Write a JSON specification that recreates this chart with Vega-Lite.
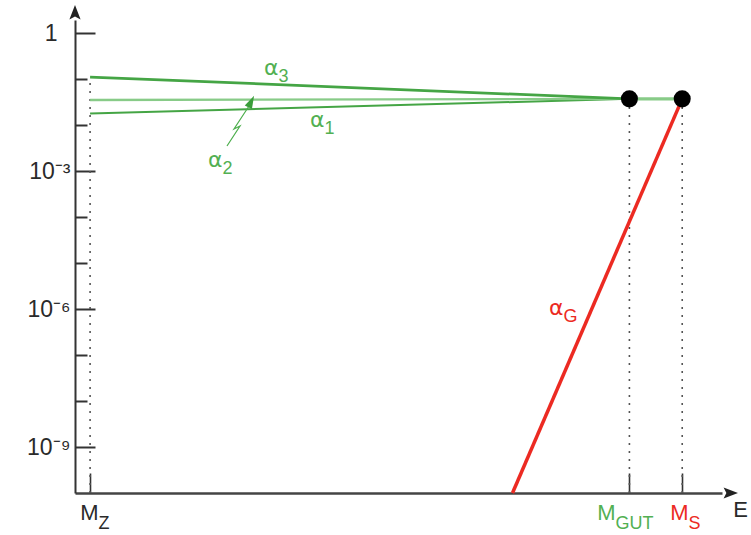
{
  "$schema": "https://vega.github.io/schema/vega-lite/v6.json",
  "width": 647,
  "height": 473,
  "autosize": "none",
  "padding": {"left": 75, "top": 20, "right": 29, "bottom": 42},
  "background": "white",
  "config": {"view": {"stroke": null}},
  "datasets": {
    "markers": [
      {"x": 2, "y": 1e-10, "top": 0.1105},
      {"x": 16.3, "y": 1e-10, "top": 0.037},
      {"x": 17.7, "y": 1e-10, "top": 0.037}
    ],
    "lines": [
      {"series": "α1", "x": 2, "y": 0.0178},
      {"series": "α1", "x": 16.3, "y": 0.037},
      {"series": "α2", "x": 2, "y": 0.035},
      {"series": "α2", "x": 16.3, "y": 0.037},
      {"series": "α3", "x": 2, "y": 0.1105},
      {"series": "α3", "x": 16.3, "y": 0.037},
      {"series": "unified", "x": 16.3, "y": 0.037},
      {"series": "unified", "x": 17.7, "y": 0.037},
      {"series": "αG", "x": 13.2, "y": 1e-10},
      {"series": "αG", "x": 17.7, "y": 0.037}
    ],
    "pointer": [
      {"i": 1, "x": 5.63, "y": 0.003495},
      {"i": 2, "x": 5.975, "y": 0.00951},
      {"i": 3, "x": 5.816, "y": 0.00819},
      {"i": 4, "x": 6.214, "y": 0.0259}
    ],
    "arrows": [
      {"dir": "up", "x": 1.6, "y": 2.72},
      {"dir": "right", "x": 18.967, "y": 1e-10},
      {"dir": "pointer", "x": 6.253, "y": 0.0301}
    ],
    "dots": [
      {"x": 16.3, "y": 0.037},
      {"x": 17.7, "y": 0.037}
    ],
    "axislabels": [
      {"main": "M", "sub": "Z", "x": 2.223, "y": 2.59e-11, "sector": "none"},
      {"main": "M", "sub": "GUT", "x": 15.932, "y": 2.59e-11, "sector": "gauge"},
      {"main": "M", "sub": "S", "x": 17.867, "y": 2.59e-11, "sector": "gravity"},
      {"main": "E", "sub": "", "x": 19.445, "y": 3.0e-11, "sector": "none"}
    ],
    "alphalabels": [
      {"main": "α", "sub": "3", "x": 6.996, "y": 0.122, "sector": "gauge"},
      {"main": "α", "sub": "1", "x": 8.216, "y": 0.00905, "sector": "gauge"},
      {"main": "α", "sub": "2", "x": 5.511, "y": 0.00122, "sector": "gauge"},
      {"main": "α", "sub": "G", "x": 14.553, "y": 7.41e-7, "sector": "gravity"}
    ]
  },
  "encoding": {
    "x": {
      "field": "x",
      "type": "quantitative",
      "scale": {"domain": [1.6, 18.755], "nice": false, "zero": false},
      "axis": {
        "title": null,
        "values": [2, 16.3, 17.7],
        "labels": false,
        "grid": false,
        "tickSize": -20,
        "tickWidth": 1.6,
        "tickColor": "#333",
        "domainColor": "#444",
        "domainWidth": 2.5
      }
    },
    "y": {
      "field": "y",
      "type": "quantitative",
      "scale": {"type": "log", "domain": [1e-10, 1.918], "nice": false},
      "axis": {
        "title": null,
        "grid": false,
        "values": [1e-9, 1e-8, 1e-7, 1e-6, 1e-5, 1e-4, 1e-3, 1e-2, 1e-1, 1],
        "tickSize": {"condition": {"test": "abs(round(log(datum.value)/LN10)) % 3 == 0", "value": -20}, "value": -12},
        "tickWidth": 2,
        "tickColor": "#333",
        "domainColor": "#333",
        "domainWidth": 2,
        "labelFont": "Liberation Sans",
        "labelFontSize": 23,
        "labelColor": "#2a2a2a",
        "labelPadding": {"condition": {"test": "datum.value > 0.5", "value": 38}, "value": 25},
        "labelExpr": "datum.value > 0.5 ? '1' : abs(round(log(datum.value)/LN10)) == 3 ? '10⁻³' : abs(round(log(datum.value)/LN10)) == 6 ? '10⁻⁶' : abs(round(log(datum.value)/LN10)) == 9 ? '10⁻⁹' : ''"
      }
    }
  },
  "resolve": {"scale": {"color": "independent", "strokeWidth": "independent", "shape": "independent", "size": "independent"}},
  "layer": [
    {
      "data": {"name": "markers"},
      "mark": {"type": "rule", "strokeDash": [2, 6], "strokeWidth": 1.6, "color": "#555"},
      "encoding": {"y2": {"field": "top"}}
    },
    {
      "data": {"name": "lines"},
      "mark": {"type": "line", "strokeCap": "butt"},
      "encoding": {
        "detail": {"field": "series"},
        "color": {
          "field": "series",
          "type": "nominal",
          "scale": {"domain": ["α1", "α2", "α3", "unified", "αG"], "range": ["#45a545", "#88cb88", "#45a545", "#88cb88", "#ec2a22"]},
          "legend": null
        },
        "strokeWidth": {
          "field": "series",
          "type": "nominal",
          "scale": {"domain": ["α1", "α2", "α3", "unified", "αG"], "range": [2, 3.5, 2, 3.5, 1.8]},
          "legend": null
        }
      }
    },
    {
      "data": {"name": "pointer"},
      "mark": {"type": "line", "color": "#4cae4c", "strokeWidth": 1.2},
      "encoding": {"order": {"field": "i", "type": "quantitative"}}
    },
    {
      "data": {"name": "arrows"},
      "mark": {"type": "point", "filled": true, "opacity": 1, "strokeWidth": 0},
      "encoding": {
        "shape": {
          "field": "dir",
          "type": "nominal",
          "scale": {"domain": ["up", "right", "pointer"], "range": ["M0,-1L0.7,0.8L0,0.45L-0.7,0.8Z", "M1,0L-0.8,0.7L-0.45,0L-0.8,-0.7Z", "M0.447,-0.894L0.179,0.761L-0.715,0.313Z"]},
          "legend": null
        },
        "color": {
          "field": "dir",
          "type": "nominal",
          "scale": {"domain": ["up", "right", "pointer"], "range": ["#222", "#222", "#3a9e3a"]},
          "legend": null
        },
        "size": {
          "field": "dir",
          "type": "nominal",
          "scale": {"domain": ["up", "right", "pointer"], "range": [256, 256, 126]},
          "legend": null
        }
      }
    },
    {
      "data": {"name": "dots"},
      "mark": {"type": "circle", "size": 290, "color": "#000", "opacity": 1}
    },
    {
      "data": {"name": "axislabels"},
      "mark": {"type": "text", "align": "right", "baseline": "alphabetic", "font": "Liberation Sans", "fontSize": 22},
      "encoding": {
        "text": {"field": "main"},
        "color": {
          "field": "sector",
          "type": "nominal",
          "scale": {"domain": ["none", "gauge", "gravity"], "range": ["#2a2a2a", "#52b052", "#ec2a22"]},
          "legend": null
        }
      }
    },
    {
      "data": {"name": "axislabels"},
      "mark": {"type": "text", "align": "left", "baseline": "alphabetic", "font": "Liberation Sans", "fontSize": 18, "dy": 9},
      "encoding": {
        "text": {"field": "sub"},
        "color": {
          "field": "sector",
          "type": "nominal",
          "scale": {"domain": ["none", "gauge", "gravity"], "range": ["#2a2a2a", "#52b052", "#ec2a22"]},
          "legend": null
        }
      }
    },
    {
      "data": {"name": "alphalabels"},
      "mark": {"type": "text", "align": "right", "baseline": "alphabetic", "font": "DejaVu Sans", "fontSize": 22},
      "encoding": {
        "text": {"field": "main"},
        "color": {
          "field": "sector",
          "type": "nominal",
          "scale": {"domain": ["none", "gauge", "gravity"], "range": ["#2a2a2a", "#52b052", "#ec2a22"]},
          "legend": null
        }
      }
    },
    {
      "data": {"name": "alphalabels"},
      "mark": {"type": "text", "align": "left", "baseline": "alphabetic", "font": "Liberation Sans", "fontSize": 18, "dy": 7},
      "encoding": {
        "text": {"field": "sub"},
        "color": {
          "field": "sector",
          "type": "nominal",
          "scale": {"domain": ["none", "gauge", "gravity"], "range": ["#2a2a2a", "#52b052", "#ec2a22"]},
          "legend": null
        }
      }
    }
  ]
}
